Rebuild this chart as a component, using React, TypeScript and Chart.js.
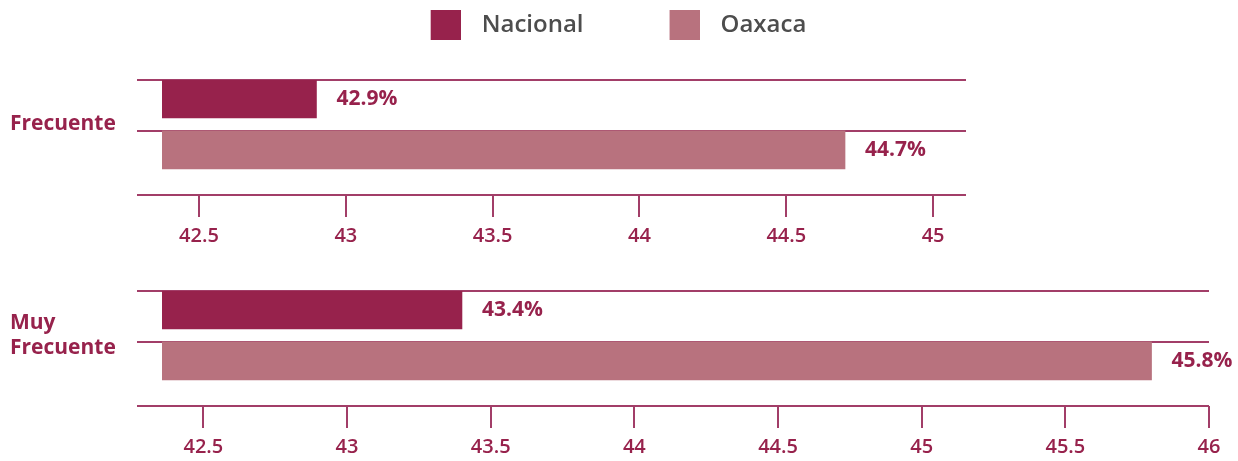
import React, { useEffect, useRef } from "react";
import { Chart, registerables } from "chart.js";

Chart.register(...registerables);

// ---- data ----
const seriesNames = ["Nacional", "Oaxaca"];
const groupLabels: (string | string[])[] = ["Frecuente", ["Muy", "Frecuente"]];
const frecuenteValues = [42.9, 44.7];
const muyFrecuenteValues = [43.4, 45.8];
const frecuenteAxis = [42.374, 45.112];
const muyFrecuenteAxis = [42.356, 46];
const tickStep = 0.5;

// ---- styles ----
const COLORS = ["#97224C", "#B8727E"];
const LABEL = "#97224C";
const LINE = "#A23E68";
const LEGEND_TEXT = "#4D4D4D";
const FONT = '"Open Sans", sans-serif';

const BAR = 38;
const ROW = 51.5;
const Y_MIN = -BAR / 2 / ROW;
const Y_MAX = Y_MIN + 116 / ROW;
const GROUP_TICK = 0.5;

function makeSwatch(color: string) {
  const c = document.createElement("canvas");
  c.width = 94;
  c.height = 30;
  const g = c.getContext("2d")!;
  g.fillStyle = color;
  g.fillRect(64, 0, 30, 30);
  return c;
}

const valueLabels = {
  id: "valueLabels",
  afterDatasetsDraw(chart: any) {
    const ctx = chart.ctx;
    ctx.save();
    ctx.font = `700 21px ${FONT}`;
    ctx.fillStyle = LABEL;
    ctx.textAlign = "left";
    ctx.textBaseline = "middle";
    chart.data.datasets.forEach((ds: any, i: number) => {
      const meta = chart.getDatasetMeta(i);
      meta.data.forEach((bar: any, j: number) => {
        const v = ds.data[j].x;
        ctx.fillText(v.toFixed(1) + "%", bar.x + 20, bar.y);
      });
    });
    ctx.restore();
  },
};

function buildConfig(
  values: number[],
  range: number[],
  group: string | string[],
  opts: { legend: boolean; padding: any; rightSpacer?: number; topSpacer?: number }
) {
  const datasets = seriesNames.map((name, i) => ({
    label: name,
    data: [{ x: values[i], y: i }],
    backgroundColor: COLORS[i],
    borderWidth: 0,
    barThickness: BAR,
    grouped: false,
  }));
  const lineColor = (ctx: any) =>
    ctx.tick && ctx.tick.value === GROUP_TICK ? "rgba(0,0,0,0)" : LINE;
  const scales: any = {
    x: {
      type: "linear",
      position: "bottom",
      min: range[0],
      max: range[1],
      offset: false,
      ticks: {
        stepSize: tickStep,
        includeBounds: false,
        autoSkip: false,
        maxRotation: 0,
        color: LABEL,
        padding: 7,
        font: { family: FONT, size: 20, weight: "600" },
        callback: (v: any) => String(v),
      },
      grid: {
        offset: false,
        drawOnChartArea: false,
        drawTicks: true,
        tickLength: 22,
        tickWidth: 2,
        tickColor: LINE,
        color: LINE,
        lineWidth: 2,
      },
      border: { display: false },
    },
    y: {
      type: "linear",
      position: "left",
      reverse: true,
      offset: false,
      min: Y_MIN,
      max: Y_MAX,
      afterBuildTicks: (scale: any) => {
        scale.ticks = [
          { value: Y_MIN },
          { value: GROUP_TICK },
          { value: 1 + Y_MIN },
          { value: Y_MAX },
        ];
      },
      afterFit: (scale: any) => {
        scale.width = 152;
      },
      ticks: {
        autoSkip: false,
        crossAlign: "far",
        padding: 0,
        color: LABEL,
        font: { family: FONT, size: 21, weight: "700", lineHeight: 1.2 },
        callback: (v: any) => (v === GROUP_TICK ? group : ""),
      },
      grid: {
        offset: false,
        drawTicks: true,
        tickLength: 25,
        lineWidth: 2,
        tickWidth: 2,
        color: lineColor,
        tickColor: lineColor,
      },
      border: { display: false },
    },
  };
  if (opts.rightSpacer) {
    scales.yr = {
      type: "linear",
      position: "right",
      display: true,
      grid: { display: false },
      border: { display: false },
      ticks: { display: false },
      afterFit: (s: any) => {
        s.width = opts.rightSpacer;
      },
    };
  }
  if (opts.topSpacer) {
    scales.xt = {
      type: "linear",
      position: "top",
      display: true,
      grid: { display: false },
      border: { display: false },
      ticks: { display: false },
      afterFit: (s: any) => {
        s.height = opts.topSpacer;
      },
    };
  }
  const swatches = COLORS.map(makeSwatch);
  return {
    type: "bar",
    data: { datasets },
    options: {
      indexAxis: "y",
      responsive: false,
      animation: false,
      events: [],
      layout: { padding: opts.padding },
      scales,
      plugins: {
        tooltip: { enabled: false },
        legend: {
          display: opts.legend,
          position: "top",
          align: "center",
          labels: {
            usePointStyle: true,
            pointStyleWidth: 112,
            padding: 13,
            color: LEGEND_TEXT,
            font: { family: FONT, size: 24, weight: "600" },
            generateLabels: (chart: any) =>
              chart.data.datasets.map((ds: any, i: number) => ({
                text: ds.label,
                pointStyle: swatches[i],
                fillStyle: ds.backgroundColor,
                strokeStyle: "rgba(0,0,0,0)",
                lineWidth: 0,
                hidden: false,
                datasetIndex: i,
                fontColor: LEGEND_TEXT,
              })),
          },
        },
      },
    },
    plugins: [valueLabels],
  } as any;
}

export default function App() {
  const ref1 = useRef<HTMLCanvasElement>(null);
  const ref2 = useRef<HTMLCanvasElement>(null);

  useEffect(() => {
    const c1 = new Chart(
      ref1.current!,
      buildConfig(frecuenteValues, frecuenteAxis, groupLabels[0], {
        legend: true,
        padding: { left: 10, right: 84, top: 0, bottom: 0 },
        rightSpacer: 188,
        topSpacer: 33,
      })
    );
    const c2 = new Chart(
      ref2.current!,
      buildConfig(muyFrecuenteValues, muyFrecuenteAxis, groupLabels[1], {
        legend: false,
        padding: { left: 10, right: 29, top: 41, bottom: 0 },
      })
    );
    return () => {
      c1.destroy();
      c2.destroy();
    };
  }, []);

  return (
    <div
      style={{
        position: "fixed",
        left: 0,
        top: 0,
        width: 1238,
        height: 461,
        overflow: "hidden",
        background: "#fff",
      }}
    >
      <canvas
        ref={ref1}
        width={1238}
        height={255}
        style={{ position: "absolute", left: 0, top: 0 }}
      />
      <canvas
        ref={ref2}
        width={1238}
        height={216}
        style={{ position: "absolute", left: 0, top: 250 }}
      />
    </div>
  );
}
